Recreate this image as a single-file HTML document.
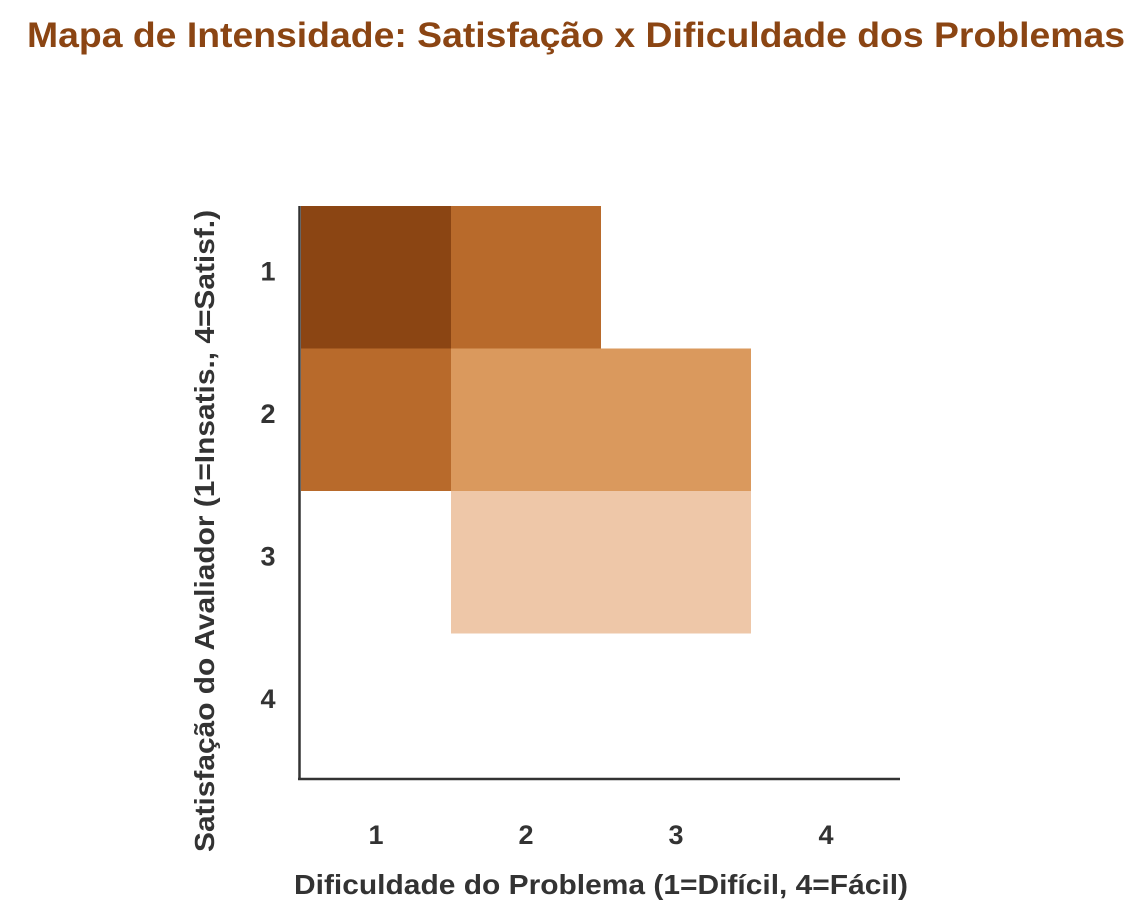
<!DOCTYPE html>
<html><head><meta charset="utf-8"><style>
html,body{margin:0;padding:0;background:#fff;}
svg{display:block;font-family:"Liberation Sans",sans-serif;}
</style></head><body>
<svg id="chart" width="1148" height="919">
<text x="576" y="47" text-anchor="middle" font-size="35" font-weight="bold" fill="#8B4513" textLength="1098" lengthAdjust="spacingAndGlyphs">Mapa de Intensidade: Satisfação x Dificuldade dos Problemas</text>
<g id="cells"></g>
<line x1="299.5" y1="206" x2="299.5" y2="780" stroke="#333" stroke-width="2.5"/>
<line x1="298" y1="779" x2="900" y2="779" stroke="#333" stroke-width="2.5"/>
<g id="xticks"></g>
<g id="yticks"></g>
<text x="601" y="894" text-anchor="middle" font-size="28" font-weight="bold" fill="#333" textLength="614" lengthAdjust="spacingAndGlyphs">Dificuldade do Problema (1=Difícil, 4=Fácil)</text>
<text transform="translate(214,531) rotate(-90)" text-anchor="middle" font-size="28" font-weight="bold" fill="#333" textLength="642" lengthAdjust="spacingAndGlyphs">Satisfação do Avaliador (1=Insatis., 4=Satisf.)</text>
</svg>
<script>
const xCategories = [1, 2, 3, 4];
const yCategories = [1, 2, 3, 4];
// values[row = satisfaction][col = difficulty]
const row1Values = [4, 3, 0, 0];
const row2Values = [3, 2, 2, 0];
const row3Values = [0, 1, 1, 0];
const row4Values = [0, 0, 0, 0];
const values = [row1Values, row2Values, row3Values, row4Values];

const NS = "http://www.w3.org/2000/svg";
const x0 = 301, cw = 150, y0 = 206, ch = 142.5;
function xScale(i){ return x0 + i*cw; }
function yScale(j){ return y0 + j*ch; }
function color(v){ return ["#ffffff","#EEC7A8","#DA995D","#B86A2B","#8B4513"][v] || "#8B4513"; }

const cells = document.getElementById("cells");
values.forEach((row, j) => {
  row.forEach((v, i) => {
    if (v <= 0) return;
    const r = document.createElementNS(NS, "rect");
    r.setAttribute("x", xScale(i));
    r.setAttribute("y", yScale(j));
    r.setAttribute("width", cw);
    r.setAttribute("height", ch);
    r.setAttribute("fill", color(v));
    
    
    cells.appendChild(r);
  });
});

const xt = document.getElementById("xticks");
xCategories.forEach((c, i) => {
  const t = document.createElementNS(NS, "text");
  t.setAttribute("x", xScale(i) + cw/2);
  t.setAttribute("y", 844);
  t.setAttribute("text-anchor", "middle");
  t.setAttribute("font-size", "27");
  t.setAttribute("font-weight", "bold");
  t.setAttribute("fill", "#333");
  t.textContent = c;
  
  
  xt.appendChild(t);
});
const yt = document.getElementById("yticks");
yCategories.forEach((c, j) => {
  const t = document.createElementNS(NS, "text");
  t.setAttribute("x", 268);
  t.setAttribute("y", yScale(j) + ch/2 + 3);
  t.setAttribute("text-anchor", "middle");
  t.setAttribute("font-size", "27");
  t.setAttribute("font-weight", "bold");
  t.setAttribute("fill", "#333");
  t.textContent = c;
  
  
  yt.appendChild(t);
});
</script>
</body></html>
